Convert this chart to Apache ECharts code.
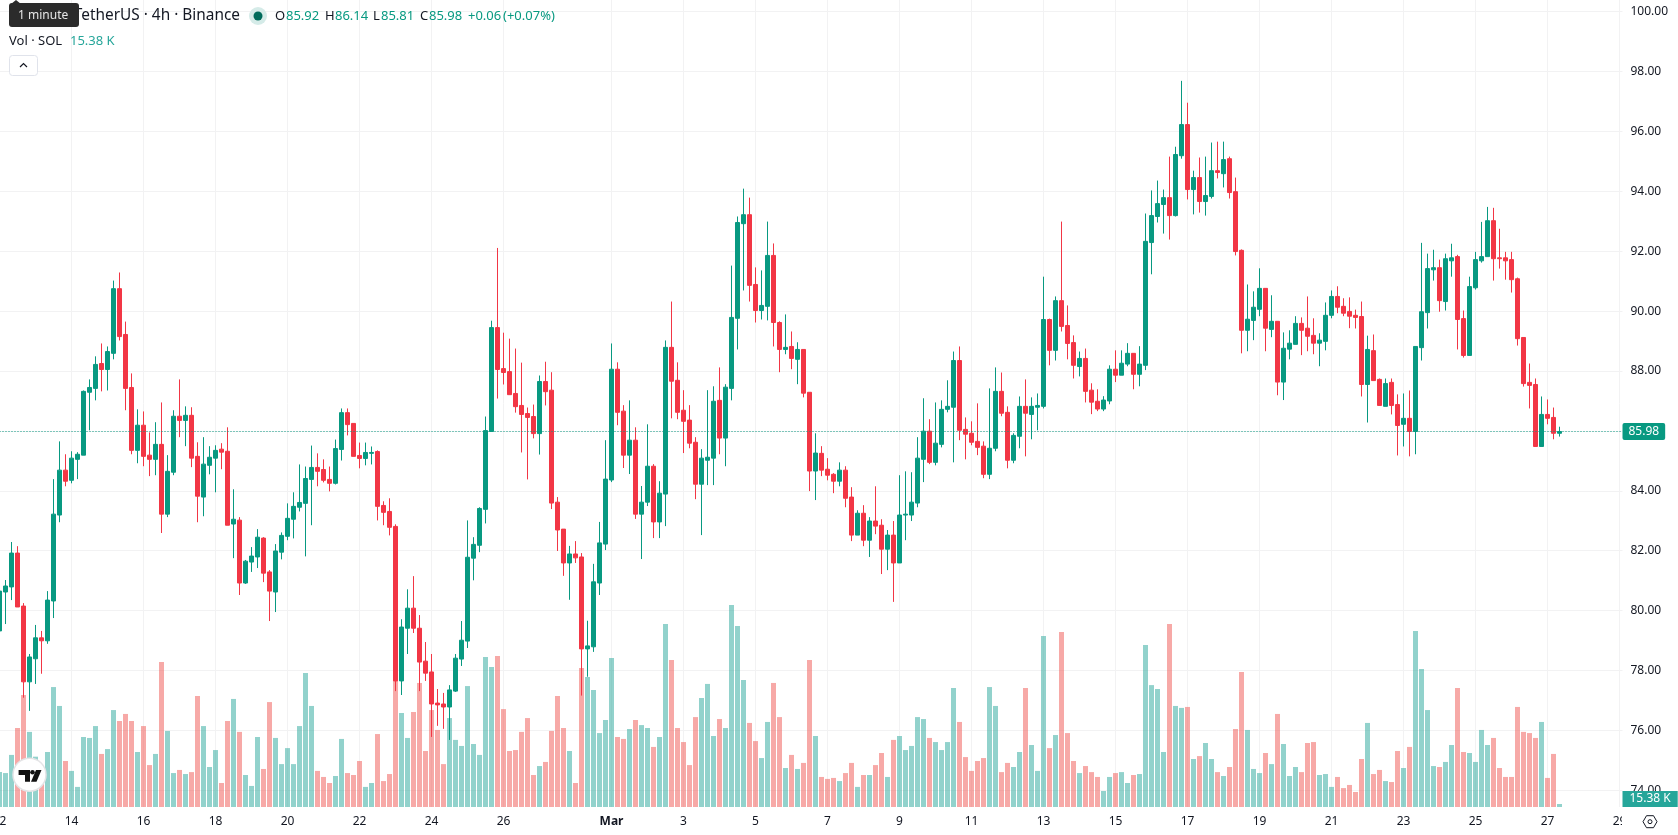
<!DOCTYPE html>
<html>
<head>
<meta charset="utf-8">
<title>SOL / TetherUS 4h</title>
<script src="https://cdn.jsdelivr.net/npm/echarts@6/dist/echarts.min.js"></script>
<style>html,body{margin:0;padding:0;background:#fff}#chart{width:1678px;height:835px}</style>
</head>
<body>
<div id="chart"></div>
<script>
// 4h bars, oldest first, starting 12 Feb 00:00
const opens = [
79.32,80.62,80.79,81.92,80.15,77.62,78.39,79.09,78.99,80.32,
83.19,84.69,84.35,85.05,85.19,87.29,87.42,88.25,88.05,88.59,
90.75,89.22,87.45,85.35,86.19,85.19,85.05,85.55,83.22,84.62,
86.49,86.35,86.52,85.15,83.79,84.85,85.09,85.39,85.32,82.89,
83.02,80.92,81.62,81.79,82.42,81.29,80.62,81.95,82.48,83.05,
83.45,83.58,84.38,84.78,84.71,84.38,84.25,85.38,86.61,86.25,
85.18,85.08,85.25,85.31,83.51,83.31,82.81,77.65,79.41,80.08,
79.41,78.31,77.95,76.91,76.88,76.78,77.31,78.38,78.98,81.75,
82.18,83.38,85.98,89.45,88.08,87.98,87.25,86.85,86.58,86.48,
85.91,87.65,87.36,83.62,82.72,81.59,81.89,81.79,78.72,78.79,
80.92,82.22,84.36,88.06,86.66,85.19,85.69,83.22,83.62,84.82,
82.96,83.89,88.79,87.69,86.69,86.36,85.62,84.22,85.02,85.09,
87.02,85.76,87.42,89.76,92.92,93.22,90.89,90.02,90.16,91.86,
89.62,88.72,88.82,88.39,88.72,87.29,84.66,85.25,84.72,84.55,
84.32,84.69,83.79,82.52,83.25,82.35,82.99,82.85,82.05,82.52,
81.59,83.19,83.19,83.59,85.05,85.99,84.95,85.55,86.72,86.79,
88.35,86.05,85.92,85.65,85.49,84.55,85.42,87.32,86.62,85.02,
85.82,86.82,86.55,86.79,86.82,89.72,88.69,90.35,89.52,88.95,
88.15,88.42,87.36,86.99,86.73,87.00,88.06,87.86,88.23,88.59,
87.89,88.19,92.29,93.16,93.56,93.79,93.19,95.19,96.23,94.06,
94.46,93.66,93.83,94.69,94.59,95.09,93.99,92.03,89.36,89.69,
90.06,90.76,89.39,89.66,87.63,88.73,88.89,89.59,89.43,89.19,
88.93,88.99,89.86,90.49,90.16,89.99,89.86,89.82,87.55,88.68,
87.72,86.82,87.62,86.88,86.22,86.42,85.98,88.78,89.95,91.38,
91.45,90.32,91.68,91.82,89.75,88.52,90.78,91.68,91.82,93.02,
91.78,91.78,91.72,91.08,89.12,87.62,87.55,85.48,86.55,86.45,
85.92];
const highs = [
80.65,81.02,82.29,82.15,80.25,78.55,79.52,79.32,80.65,84.39,
85.65,85.22,85.32,85.29,87.35,87.72,88.49,88.92,88.82,91.02,
91.29,89.65,87.92,86.72,86.65,85.95,86.29,86.95,85.19,86.69,
87.72,86.82,86.79,85.62,85.79,85.49,85.52,85.59,86.12,84.05,
83.12,81.69,82.12,82.72,82.45,81.35,82.22,82.61,83.58,83.95,
84.88,84.81,85.51,85.25,85.05,84.81,85.71,86.75,86.75,86.25,
85.61,85.61,85.48,85.35,83.65,83.75,82.88,79.71,80.71,81.15,
79.85,78.95,78.55,77.38,77.25,77.51,78.55,79.65,83.01,82.45,
83.45,86.48,89.68,92.11,89.28,89.08,88.75,88.28,86.78,86.88,
87.85,88.31,87.96,83.79,82.72,82.16,82.32,81.92,79.66,81.56,
82.96,85.69,88.92,88.29,86.86,87.02,86.12,84.16,86.22,84.89,
84.32,89.02,90.32,88.29,87.36,86.86,85.79,85.39,87.36,87.49,
88.12,87.56,91.52,93.16,94.09,93.79,91.46,91.36,92.99,92.26,
89.66,89.89,89.32,88.96,88.72,87.29,85.92,85.49,85.09,84.59,
84.95,84.82,84.12,83.35,83.52,83.12,84.15,83.05,82.69,82.99,
84.52,84.65,84.62,85.79,87.09,86.39,86.95,87.02,87.69,88.65,
88.82,86.45,86.32,86.92,85.65,87.42,88.12,87.95,86.82,85.92,
87.15,87.72,87.12,87.25,91.15,89.75,90.49,92.99,90.19,89.19,
88.65,88.75,87.59,87.39,87.16,88.19,88.69,88.69,88.93,88.59,
88.83,93.26,94.03,94.36,94.06,95.16,95.49,97.69,96.96,94.69,
95.13,95.16,95.63,95.66,95.66,95.16,94.46,92.06,90.89,90.66,
91.43,90.76,90.53,89.66,89.29,89.36,89.83,89.79,90.49,89.76,
89.26,90.29,90.69,90.83,90.43,90.46,90.05,90.32,89.18,89.22,
87.75,87.75,87.75,87.22,87.25,87.35,88.82,92.28,91.92,92.05,
91.72,91.92,92.25,91.88,90.02,91.15,91.98,92.98,93.48,93.45,
92.75,91.98,91.98,91.12,89.12,88.25,87.75,87.15,87.05,86.78,
86.14];
const lows = [
79.20,79.55,80.35,80.12,77.09,76.65,77.55,77.89,78.89,79.75,
82.95,84.15,84.25,84.39,85.19,86.02,87.02,87.32,87.35,88.39,
89.02,86.69,85.22,84.92,84.82,84.49,84.52,82.59,83.12,84.52,
85.79,85.49,84.79,82.95,83.15,84.55,83.95,84.72,82.85,81.75,
80.52,80.89,81.29,81.42,80.95,79.65,79.95,81.71,82.35,82.41,
83.31,81.81,82.85,84.15,84.28,83.98,84.21,85.01,85.85,85.15,
84.75,84.85,84.88,83.01,82.85,82.51,77.31,77.18,78.55,79.25,
77.31,77.65,75.78,76.15,76.05,75.68,77.28,78.15,78.75,81.01,
81.95,82.91,85.98,87.08,87.55,87.21,86.61,85.28,84.38,85.75,
85.21,86.85,83.39,81.99,81.16,80.36,81.59,77.16,77.79,78.62,
80.52,82.02,84.29,86.19,84.76,84.56,83.06,81.72,83.49,82.42,
82.42,82.82,86.42,86.39,85.26,85.42,83.72,82.52,84.19,84.19,
85.22,84.82,87.02,88.72,90.69,90.32,89.62,89.72,89.69,88.82,
87.96,88.56,88.06,87.56,87.12,83.99,83.69,84.49,84.35,83.92,
84.15,83.45,82.32,82.52,82.15,81.79,82.55,81.22,81.35,80.29,
81.59,82.35,82.99,83.45,84.29,84.89,84.85,85.45,86.62,84.95,
85.69,85.05,85.52,85.19,84.42,84.39,85.32,86.49,84.75,84.92,
85.42,85.15,85.72,86.02,86.75,88.19,88.35,89.32,88.39,87.75,
87.82,86.95,86.56,86.66,86.66,86.89,87.63,87.86,88.16,87.39,
87.49,88.03,91.23,92.96,92.59,92.39,93.16,95.09,93.73,93.23,
93.29,93.19,93.76,94.43,94.13,93.76,91.86,88.59,88.66,89.03,
89.83,88.66,89.13,87.19,87.03,88.39,88.89,88.53,88.66,88.56,
88.16,88.69,89.76,89.93,89.83,89.43,89.42,87.15,86.28,87.68,
86.85,86.82,86.55,85.18,85.48,85.15,85.22,88.35,89.42,91.02,
89.98,90.02,91.15,88.72,88.45,88.52,90.72,91.62,91.82,91.02,
91.42,91.05,90.62,88.85,87.48,86.75,85.48,85.48,86.22,85.72,
85.81];
const closes = [
80.65,80.82,81.92,80.12,77.62,78.45,79.09,78.99,80.35,83.22,
84.69,84.32,85.09,85.22,87.32,87.45,88.22,88.05,88.65,90.75,
89.15,87.42,85.35,86.19,85.15,85.05,85.55,83.22,84.65,86.49,
86.35,86.52,85.09,83.82,84.89,85.12,85.35,85.29,82.85,83.05,
80.92,81.65,81.82,82.45,81.25,80.65,81.99,82.51,83.08,83.48,
83.61,84.41,84.78,84.65,84.35,84.25,85.41,86.61,86.21,85.15,
85.08,85.28,85.28,83.48,83.28,82.78,77.65,79.45,80.08,79.41,
78.28,77.91,76.88,76.85,76.78,77.35,78.41,79.01,81.78,82.21,
83.41,86.01,89.45,88.05,87.95,87.21,86.81,86.55,86.45,85.91,
87.65,87.31,83.59,82.69,81.59,81.89,81.76,78.72,78.82,80.96,
82.26,84.39,88.06,86.62,85.19,85.69,83.22,83.62,84.82,82.96,
83.92,88.79,87.66,86.62,86.32,85.59,84.22,85.09,85.12,86.99,
85.76,87.46,89.79,92.96,93.22,90.86,90.02,90.19,91.86,89.62,
88.72,88.79,88.42,88.72,87.26,84.66,85.26,84.69,84.52,84.32,
84.69,83.75,82.52,83.25,82.35,82.99,82.82,82.05,82.52,81.59,
83.19,83.22,83.62,85.09,85.99,84.95,85.59,86.72,86.82,88.35,
86.02,85.89,85.62,85.45,84.55,85.42,87.32,86.59,85.02,85.85,
86.82,86.59,86.82,86.85,89.72,88.69,90.35,89.49,88.92,88.19,
88.42,87.32,86.96,86.73,87.03,88.06,87.86,88.26,88.59,87.89,
88.23,92.33,93.19,93.59,93.79,93.19,95.23,96.23,94.06,94.46,
93.66,93.86,94.69,94.63,95.06,93.96,91.99,89.36,89.73,90.13,
90.76,89.43,89.66,87.63,88.76,88.93,89.59,89.36,89.16,88.93,
89.03,89.86,90.49,90.13,89.93,89.83,89.79,87.55,88.72,87.68,
86.85,87.58,86.85,86.18,86.42,85.98,88.82,89.98,91.42,91.45,
90.35,91.75,91.78,89.72,88.52,90.82,91.72,91.82,93.02,91.75,
91.75,91.68,91.05,89.08,87.58,87.52,85.48,86.55,86.42,85.92,
85.98];
// Base-asset volume per bar, in thousands of SOL
const volumes = [
179,174,267,405,574,385,258,138,282,615,
518,236,185,103,359,354,415,272,297,497,
441,477,441,282,415,215,272,743,390,174,
190,169,179,569,415,205,292,123,441,554,
385,164,108,359,195,538,354,220,302,220,
415,687,518,185,154,123,159,349,174,164,
236,103,123,374,133,169,651,482,354,487,
636,287,497,395,220,456,344,313,620,323,
267,769,718,774,502,287,292,385,456,164,
210,231,390,569,405,287,123,713,667,600,
379,446,764,359,349,400,446,420,405,308,
359,938,754,405,333,215,461,559,631,364,
451,405,1036,928,651,431,338,251,436,636,
461,200,267,195,226,754,364,154,144,149,
133,174,226,103,164,164,215,277,154,344,
364,292,313,461,451,354,333,292,333,610,
436,256,185,236,251,615,518,179,226,205,
282,610,318,185,877,302,369,897,379,236,
174,210,179,154,82,154,174,179,123,164,
169,831,625,605,282,938,518,508,513,246,
261,328,246,179,159,205,400,692,395,195,
174,277,220,477,323,159,205,179,328,333,
164,169,103,154,97,113,77,246,431,169,
190,133,128,287,200,308,902,708,497,210,
205,231,318,610,282,277,231,395,318,354,
200,154,154,513,385,379,354,436,149,272,
15.38];

const priceTicks = [74,76,78,80,82,84,86,88,90,92,94,96,98,100];
const timeTickDates = ['02-12','02-14','02-16','02-18','02-20','02-22','02-24','02-26','03-01','03-03','03-05','03-07','03-09','03-11','03-13','03-15','03-17','03-19','03-21','03-23','03-25','03-27','03-29'];
const timeTickLabels = ['12','14','16','18','20','22','24','26','Mar','3','5','7','9','11','13','15','17','19','21','23','25','27','29'];

// Bar start times on the time axis; the axis runs on a little past the last bar
const barsPerDay = 6, febDays = 28, axisBars = 271;
const times = [];
for (let i = 0; i < axisBars; i++) {
  let d = 12 + Math.floor(i / barsPerDay), m = 2;
  if (d > febDays) { d -= febDays; m = 3; }
  const h = (i % barsPerDay) * 4;
  times.push('0' + m + '-' + String(d).padStart(2, '0') + ' ' + String(h).padStart(2, '0') + ':00');
}
const tickIndex = {};
timeTickDates.forEach((d, i) => { tickIndex[d + ' 00:00'] = timeTickLabels[i]; });
const isTick = (i, v) => v in tickIndex;

const UP = '#089981', DOWN = '#F23645';
const VOL_UP = 'rgba(38,166,154,0.5)', VOL_DOWN = 'rgba(239,83,80,0.5)';
const TAG = '#26A69A', TEXT = '#131722', GRID = '#F2F2F3';
const FONT = '"Noto Sans", sans-serif';

const last = closes.length - 1;
const chg = closes[last] - opens[last];
const candles = opens.map((o, i) => [o, closes[i], lows[i], highs[i]]);

function txt(x, y, text, fill, size, extra) {
  return Object.assign({
    type: 'text', z: 20,
    style: { x, y, text, fill, font: (size || 13) + 'px ' + FONT, align: 'left', verticalAlign: 'middle' }
  }, extra || {});
}

const chart = echarts.init(document.getElementById('chart'), null, { renderer: 'canvas' });
chart.setOption({
  animation: false,
  backgroundColor: '#fff',
  textStyle: { fontFamily: FONT },
  grid: [
    { left: -3.5, top: 0, width: 1626, height: 807, outerBoundsMode: 'none' },
    { left: -3.5, top: 0, width: 1626, height: 807, outerBoundsMode: 'none' }
  ],
  xAxis: [
    { type: 'category', gridIndex: 0, data: times, show: false, boundaryGap: true },
    {
      type: 'category', gridIndex: 1, data: times, boundaryGap: true,
      axisLine: { show: false }, axisTick: { show: false },
      axisLabel: {
        interval: isTick, color: TEXT, fontSize: 12, margin: 9, fontFamily: FONT, hideOverlap: false,
        formatter: v => tickIndex[v] === 'Mar' ? '{b|Mar}' : tickIndex[v],
        rich: { b: { fontWeight: 'bold', fontSize: 12, color: TEXT, fontFamily: FONT } }
      },
      splitLine: { show: true, interval: isTick, alignWithLabel: true, lineStyle: { color: GRID, width: 1 } }
    }
  ],
  yAxis: [
    {
      type: 'value', gridIndex: 0, position: 'right', min: 73.44, max: 100.39, scale: true,
      axisLine: { show: false },
      axisTick: { show: false, customValues: priceTicks },
      axisLabel: { customValues: priceTicks, color: TEXT, fontSize: 12, margin: 8, fontFamily: FONT, formatter: v => v.toFixed(2) },
      splitLine: { show: true, lineStyle: { color: GRID, width: 1 } }
    },
    { type: 'value', gridIndex: 1, position: 'right', min: 0, max: 4137.5, show: false, splitLine: { show: false } }
  ],
  series: [
    {
      type: 'bar', name: 'Vol', xAxisIndex: 1, yAxisIndex: 1, z: 2, barWidth: 5, silent: true,
      data: volumes.map((v, i) => ({ value: v, itemStyle: { color: closes[i] >= opens[i] ? VOL_UP : VOL_DOWN } })),
      markLine: {
        silent: true, symbol: 'none', z: 8,
        lineStyle: { color: 'rgba(0,0,0,0)', width: 0 },
        data: [{ yAxis: volumes[last] }],
        label: {
          position: 'end', distance: 0, offset: [0, -5], formatter: volumes[last].toFixed(2) + ' K',
          color: '#fff', backgroundColor: TAG, fontSize: 12, padding: [2, 7, 2, 7], fontFamily: FONT
        }
      }
    },
    {
      type: 'candlestick', name: 'SOLUSDT', xAxisIndex: 0, yAxisIndex: 0, z: 3, barWidth: 4, silent: true,
      itemStyle: { color: UP, color0: DOWN, borderColor: UP, borderColor0: DOWN, borderColorDoji: UP, borderWidth: 1 },
      data: candles,
      markLine: {
        silent: true, symbol: 'none', z: 7,
        lineStyle: { color: UP, type: [1, 2], width: 1 },
        data: [{ yAxis: closes[last] }],
        label: {
          position: 'end', distance: 0, formatter: closes[last].toFixed(2),
          color: '#fff', backgroundColor: UP, fontSize: 12, padding: [3, 6, 2, 6], borderRadius: 2, fontFamily: FONT
        }
      }
    }
  ],
  graphic: [
    // keeps clipped time labels out of the price scale column
    { type: 'rect', z: 10, shape: { x: 1622, y: 807, width: 56, height: 28 }, style: { fill: '#fff' } },
    {
      type: 'polygon', z: 11,
      shape: { points: [[1643, 821.7], [1646.5, 815.7], [1653.5, 815.7], [1657, 821.7], [1653.5, 827.7], [1646.5, 827.7]] },
      style: { fill: '#fff', stroke: TEXT, lineWidth: 1 }
    },
    { type: 'circle', z: 12, shape: { cx: 1650, cy: 821.7, r: 2 }, style: { fill: '#fff', stroke: TEXT, lineWidth: 1 } },

    // header
    { type: 'text', z: 20, style: { x: 240, y: 16, text: 'Solana / TetherUS · 4h · Binance', fill: TEXT, font: '15.4px ' + FONT, align: 'right', verticalAlign: 'middle' } },
    { type: 'circle', z: 20, shape: { cx: 258, cy: 16, r: 9 }, style: { fill: '#D5EBE8' } },
    { type: 'circle', z: 21, shape: { cx: 258, cy: 16, r: 4.5 }, style: { fill: '#006B5B' } },
    txt(275, 16, 'O', TEXT), txt(286, 16, opens[last].toFixed(2), UP),
    txt(325, 16, 'H', TEXT), txt(335, 16, highs[last].toFixed(2), UP),
    txt(373, 16, 'L', TEXT), txt(381, 16, lows[last].toFixed(2), UP),
    txt(420, 16, 'C', TEXT), txt(429, 16, closes[last].toFixed(2), UP),
    txt(468, 16, '+' + chg.toFixed(2), UP),
    txt(503, 16, '(+' + (chg / opens[last] * 100).toFixed(2) + '%)', UP),
    txt(9, 41, 'Vol · SOL', TEXT),
    txt(70, 41, volumes[last].toFixed(2) + ' K', TAG),

    // collapse button
    { type: 'rect', z: 20, shape: { x: 9.5, y: 55.5, width: 28, height: 20, r: 3 }, style: { fill: '#fff', stroke: '#E0E3EB', lineWidth: 1 } },
    { type: 'polyline', z: 21, shape: { points: [[20, 67], [23.5, 63.5], [27, 67]] }, style: { fill: null, stroke: TEXT, lineWidth: 1.2 } },

    // hover hint over the symbol name
    { type: 'polygon', z: 30, shape: { points: [[11, 4], [16, 0], [21, 4]] }, style: { fill: '#2B2B2B' } },
    { type: 'rect', z: 30, shape: { x: 9, y: 3, width: 70, height: 24, r: 3 }, style: { fill: '#2B2B2B' } },
    txt(18, 15.5, '1 minute', '#E6E6E6', 12, { z: 31 }),

    // library mark
    { type: 'circle', z: 20, shape: { cx: 29.5, cy: 774.7, r: 16.5 }, style: { fill: '#fff', stroke: '#E4E4E6', lineWidth: 1.5 } },
    { type: 'polygon', z: 21, shape: { points: [[18.6, 770], [30, 770], [30, 781.7], [25, 781.7], [25, 775], [18.6, 775]] }, style: { fill: '#111' } },
    { type: 'circle', z: 21, shape: { cx: 32.5, cy: 772.3, r: 2.3 }, style: { fill: '#111' } },
    { type: 'polygon', z: 21, shape: { points: [[36, 770], [41.5, 770], [36.5, 781.7], [31, 781.7]] }, style: { fill: '#111' } }
  ]
});
</script>
</body>
</html>
